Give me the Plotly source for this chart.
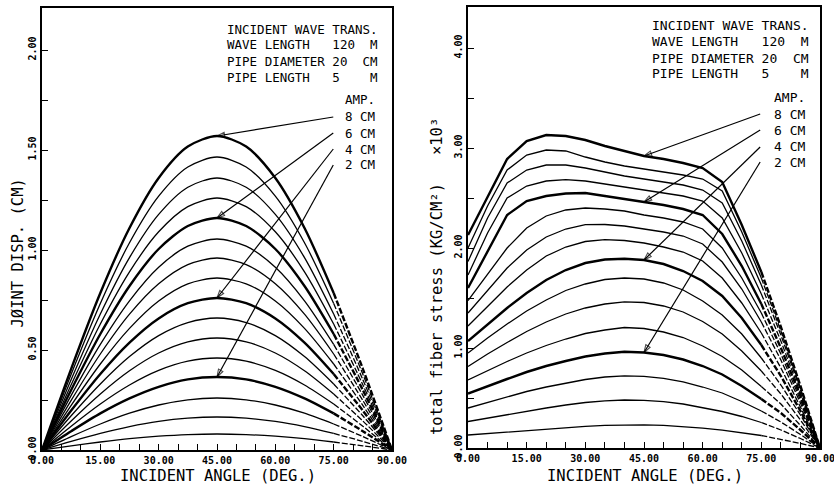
import plotly.graph_objects as go

# ---------------------------------------------------------------------------
# Data
# ---------------------------------------------------------------------------
# Pipe-joint response to an incident (transverse) wave, wave length 120 m,
# pipe diameter 20 cm, pipe length 5 m, ground amplitude 0.5 ... 8 cm.

amplitude_cm = [0.5, 1.0, 1.5, 2.0, 2.5, 3.0, 3.5, 4.0,
                4.5, 5.0, 5.5, 6.0, 6.5, 7.0, 7.5, 8.0]
labelled_amplitudes = [8.0, 6.0, 4.0, 2.0]

# Left: joint displacement (cm)
angle_disp = [0, 7.5, 15, 22.5, 30, 37.5, 45, 52.5, 60, 67.5, 75, 82.5, 90]
joint_disp_cm = [
    [0, .021, .040, .057, .069, .077, .080, .077, .069, .057, .040, .021, 0],
    [0, .043, .083, .117, .143, .159, .165, .159, .143, .117, .083, .043, 0],
    [0, .067, .130, .184, .225, .251, .260, .251, .225, .184, .130, .067, 0],
    [0, .094, .183, .258, .316, .353, .365, .353, .316, .258, .183, .094, 0],
    [0, .119, .230, .325, .398, .444, .460, .444, .398, .325, .230, .119, 0],
    [0, .145, .280, .396, .485, .541, .560, .541, .485, .396, .280, .145, 0],
    [0, .171, .330, .467, .572, .637, .660, .637, .572, .467, .330, .171, 0],
    [0, .197, .380, .537, .658, .734, .760, .734, .658, .537, .380, .197, 0],
    [0, .223, .430, .608, .745, .831, .860, .831, .745, .608, .430, .223, 0],
    [0, .248, .480, .679, .831, .927, .960, .927, .831, .679, .480, .248, 0],
    [0, .273, .528, .746, .914, 1.019, 1.055, 1.019, .914, .746, .528, .273, 0],
    [0, .300, .580, .820, 1.005, 1.120, 1.160, 1.120, 1.005, .820, .580, .300, 0],
    [0, .326, .630, .891, 1.091, 1.217, 1.260, 1.217, 1.091, .891, .630, .326, 0],
    [0, .352, .680, .962, 1.178, 1.314, 1.360, 1.314, 1.178, .962, .680, .352, 0],
    [0, .379, .733, 1.036, 1.269, 1.415, 1.465, 1.415, 1.269, 1.036, .733, .379, 0],
    [0, .406, .785, 1.110, 1.360, 1.517, 1.570, 1.517, 1.360, 1.110, .785, .406, 0],
]

# Right: total fiber stress (kg/cm^2, x10^3)
angle_stress = [0, 5, 10, 15, 20, 25, 30, 35, 40, 45,
                50, 55, 60, 65, 70, 75, 80, 85, 90]
fiber_stress_e3 = [
    [0.13, 0.145, 0.16, 0.175, 0.19, 0.205, 0.217, 0.226, 0.232, 0.231, 0.226, 0.215, 0.198, 0.178, 0.155, 0.125, 0.088, 0.046, 0],
    [0.265, 0.30, 0.335, 0.37, 0.40, 0.43, 0.455, 0.472, 0.48, 0.476, 0.463, 0.44, 0.405, 0.365, 0.315, 0.255, 0.18, 0.095, 0],
    [0.40, 0.455, 0.51, 0.565, 0.61, 0.65, 0.685, 0.71, 0.722, 0.716, 0.697, 0.662, 0.61, 0.55, 0.465, 0.37, 0.26, 0.135, 0],
    [0.545, 0.62, 0.69, 0.76, 0.82, 0.87, 0.915, 0.945, 0.963, 0.955, 0.93, 0.885, 0.82, 0.735, 0.62, 0.49, 0.35, 0.18, 0],
    [0.68, 0.775, 0.865, 0.95, 1.025, 1.09, 1.145, 1.18, 1.205, 1.195, 1.16, 1.105, 1.02, 0.915, 0.78, 0.615, 0.44, 0.225, 0],
    [0.815, 0.94, 1.055, 1.165, 1.26, 1.34, 1.40, 1.44, 1.462, 1.455, 1.42, 1.36, 1.265, 1.14, 0.97, 0.77, 0.54, 0.28, 0],
    [0.95, 1.10, 1.24, 1.37, 1.48, 1.575, 1.64, 1.685, 1.70, 1.69, 1.65, 1.58, 1.47, 1.33, 1.14, 0.90, 0.63, 0.33, 0],
    [1.07, 1.24, 1.40, 1.55, 1.68, 1.78, 1.85, 1.885, 1.893, 1.88, 1.84, 1.77, 1.67, 1.52, 1.30, 1.03, 0.72, 0.37, 0],
    [1.22, 1.42, 1.61, 1.78, 1.92, 2.01, 2.065, 2.083, 2.075, 2.05, 2.01, 1.96, 1.87, 1.70, 1.45, 1.15, 0.80, 0.41, 0],
    [1.35, 1.58, 1.80, 1.98, 2.11, 2.19, 2.233, 2.235, 2.22, 2.19, 2.16, 2.12, 2.04, 1.86, 1.59, 1.26, 0.88, 0.45, 0],
    [1.475, 1.74, 2.0, 2.2, 2.32, 2.38, 2.40, 2.39, 2.37, 2.33, 2.30, 2.26, 2.19, 2.00, 1.70, 1.35, 0.94, 0.48, 0],
    [1.60, 1.97, 2.33, 2.47, 2.52, 2.545, 2.55, 2.52, 2.49, 2.46, 2.43, 2.39, 2.33, 2.14, 1.82, 1.44, 1.00, 0.52, 0],
    [1.73, 2.15, 2.50, 2.62, 2.67, 2.683, 2.67, 2.64, 2.61, 2.58, 2.55, 2.52, 2.47, 2.30, 1.95, 1.54, 1.07, 0.55, 0],
    [1.865, 2.30, 2.65, 2.78, 2.83, 2.83, 2.80, 2.76, 2.72, 2.69, 2.66, 2.63, 2.58, 2.45, 2.07, 1.63, 1.13, 0.58, 0],
    [2.0, 2.42, 2.78, 2.93, 2.98, 2.97, 2.91, 2.86, 2.82, 2.79, 2.76, 2.73, 2.69, 2.57, 2.16, 1.70, 1.17, 0.60, 0],
    [2.13, 2.51, 2.89, 3.07, 3.13, 3.12, 3.08, 3.02, 2.97, 2.92, 2.89, 2.85, 2.80, 2.66, 2.23, 1.76, 1.21, 0.62, 0],
]

# Text
info_lines = ["INCIDENT WAVE TRANS.",
              "WAVE LENGTH   120  M",
              "PIPE DIAMETER 20  CM",
              "PIPE LENGTH   5    M"]
amp_title = "AMP."
amp_labels = ["8 CM", "6 CM", "4 CM", "2 CM"]
x_title = "INCIDENT ANGLE (DEG.)"
y_title_disp = "JØINT DISP. (CM)"
y_title_stress = "total fiber stress (KG/CM²)   ×10³"

x_ticks = [0, 15, 30, 45, 60, 75, 90]
y_ticks_disp = [0.0, 0.5, 1.0, 1.5, 2.0]
y_ticks_stress = [0.0, 1.0, 2.0, 3.0, 4.0]

# ---------------------------------------------------------------------------
W, H = 834, 486
MONO = "DejaVu Sans Mono"
DASH_FROM = 75  # plotter pen breaks up beyond this angle


def px(x, y):
    """Pixel position on the page -> paper coordinates."""
    return x / W, 1 - y / H


fig = go.Figure()


def add_family(xs, rows, xa, ya, shape):
    for amp, ys in zip(amplitude_cm, rows):
        width = 2.4 if amp in labelled_amplitudes else 1.3
        solid = [(x, y) for x, y in zip(xs, ys) if x <= DASH_FROM]
        broken = [(x, y) for x, y in zip(xs, ys) if x >= DASH_FROM]
        for part, dash in ((solid, "solid"), (broken, "6px,2px")):
            fig.add_trace(go.Scatter(
                x=[p[0] for p in part], y=[p[1] for p in part],
                xaxis=xa, yaxis=ya, mode="lines",
                line=dict(color="black", width=width, dash=dash, shape=shape,
                          smoothing=0.8 if shape == "spline" else None),
                hoverinfo="skip", showlegend=False))


add_family(angle_disp, joint_disp_cm, "x", "y", "spline")
add_family(angle_stress, fiber_stress_e3, "x2", "y2", "linear")

# Leader lines from the amplitude labels to the curves at 45 degrees
leader_tail_disp = [(74.9, 1.665), (74.9, 1.585), (74.9, 1.505), (74.9, 1.425)]
leader_tail_stress = [(74.7, 3.34), (74.7, 3.18), (74.7, 3.01), (74.7, 2.86)]


def add_leaders(xs, rows, tails, xa, ya):
    i45 = xs.index(45)
    for amp, (tx, ty) in zip(labelled_amplitudes, tails):
        tip_y = rows[amplitude_cm.index(amp)][i45]
        fig.add_trace(go.Scatter(
            x=[tx, 45], y=[ty, tip_y], xaxis=xa, yaxis=ya,
            mode="lines+markers",
            line=dict(color="black", width=1.2),
            marker=dict(symbol="arrow-open", size=[0, 8], angleref="previous",
                        color="black", line=dict(color="black", width=1.1)),
            hoverinfo="skip", showlegend=False))


add_leaders(angle_disp, joint_disp_cm, leader_tail_disp, "x", "y")
add_leaders(angle_stress, fiber_stress_e3, leader_tail_stress, "x2", "y2")

# ---------------------------------------------------------------------------
# Axes
tick_font = dict(family=MONO, size=10, color="black", weight="bold")
common = dict(showline=True, mirror=True, linecolor="black", linewidth=1.6,
              ticks="inside", ticklen=6, tickwidth=1.3, tickcolor="black",
              showgrid=False, zeroline=False, tickfont=tick_font,
              tickformat=".2f", automargin=False, ticklabeloverflow="allow")

x_common = dict(common, range=[0, 90], tickmode="array", tickvals=x_ticks,
                minor=dict(ticks="inside", ticklen=6, tickwidth=1.3,
                           tickcolor="black", dtick=5, tick0=0, showgrid=False))

fig.update_layout(
    xaxis=dict(x_common, domain=[42 / W, 392 / W], anchor="y"),
    yaxis=dict(common, domain=[1 - 450 / H, 1 - 8 / H], anchor="x",
               range=[0, 2.21], tickmode="array", tickvals=y_ticks_disp,
               tickangle=-90,
               minor=dict(ticks="inside", ticklen=6, tickwidth=1.3,
                          tickcolor="black", dtick=0.25, tick0=0,
                          showgrid=False)),
    xaxis2=dict(x_common, domain=[468 / W, 820 / W], anchor="y2"),
    yaxis2=dict(common, domain=[1 - 448 / H, 1 - 7 / H], anchor="x2",
                range=[0, 4.41], tickmode="array", tickvals=y_ticks_stress,
                tickangle=-90,
                minor=dict(ticks="inside", ticklen=6, tickwidth=1.3,
                           tickcolor="black", dtick=0.5, tick0=0,
                           showgrid=False)),
    width=W, height=H,
    margin=dict(l=0, r=0, t=0, b=0),
    paper_bgcolor="white", plot_bgcolor="white",
    showlegend=False,
)

# ---------------------------------------------------------------------------
# Text
ann = []


def text(x, y, s, size, xanchor="left", angle=0):
    X, Y = px(x, y)
    ann.append(dict(x=X, y=Y, xref="paper", yref="paper", text=s,
                    showarrow=False, xanchor=xanchor, yanchor="middle",
                    textangle=angle,
                    font=dict(family=MONO, size=size, color="black")))


for i, line in enumerate(info_lines):
    text(225, 29 + 16 * i, line, 12.5)
    text(650, 26 + 16 * i, line, 13)

text(343, 100, amp_title, 12.5)
text(772, 98, amp_title, 13)
for i, lab in enumerate(amp_labels):
    text(343, 117 + 16 * i, lab, 12.5)
    text(772, 114.5 + 16 * i, lab, 13)

text(218, 476, x_title, 15.5, xanchor="center")
text(645, 476, x_title, 15.5, xanchor="center")
text(17.5, 253, y_title_disp, 15.5, xanchor="center", angle=-90)
text(437, 276, y_title_stress, 15.5, xanchor="center", angle=-90)

fig.update_layout(annotations=ann)

fig.write_html("out.html")
